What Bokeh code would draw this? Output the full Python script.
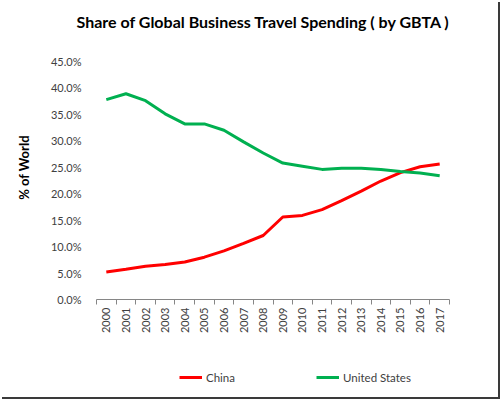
import math
from bokeh.plotting import figure
from bokeh.models import (Range1d, FixedTicker, PrintfTickFormatter, Label, Legend, LegendItem, ColumnDataSource)
from bokeh.embed import file_html
from bokeh.resources import INLINE

years = ["2000", "2001", "2002", "2003", "2004", "2005", "2006", "2007", "2008",
         "2009", "2010", "2011", "2012", "2013", "2014", "2015", "2016", "2017"]
china = [5.2, 5.7, 6.3, 6.6, 7.1, 8.0, 9.2, 10.6, 12.1, 15.6, 15.9, 17.0, 18.7, 20.5, 22.4, 24.0, 25.1, 25.6]
united_states = [37.8, 38.9, 37.6, 35.1, 33.2, 33.2, 32.0, 29.8, 27.7, 25.8, 25.2, 24.6, 24.8, 24.8, 24.6, 24.2, 23.9, 23.4]
y_ticks = [0, 5, 10, 15, 20, 25, 30, 35, 40, 45]
y_min, y_max = 0, 45

# canvas and plot-area geometry (pixels)
W, H = 498, 397
PX_L, PX_R, PY_T, PY_B = 96, 449, 61, 299
FONT = "Lato"

n = len(years)
xs = list(range(n))
src = ColumnDataSource(dict(x=xs, china=china, us=united_states))

# the frame fills the whole canvas; ranges are set so the data area lands on the plot area
xpp = n / (PX_R - PX_L)
ypp = (y_max - y_min) / (PY_B - PY_T)
x_range = Range1d(-0.5 - PX_L * xpp, -0.5 + (W - PX_L) * xpp)
y_range = Range1d(y_min - (H - PY_B) * ypp, y_max + PY_T * ypp)

p = figure(width=W, height=H, output_backend="svg", toolbar_location=None,
           x_range=x_range, y_range=y_range, min_border=0)
p.styles = {"box-shadow": "2px 2px 0 #3a3a3a"}
p.outline_line_color = None
p.xgrid.visible = False
p.ygrid.visible = False
p.background_fill_color = "white"
p.border_fill_color = "white"

r1 = p.line("x", "china", source=src, line_color="#FF0000", line_width=3)
r2 = p.line("x", "us", source=src, line_color="#00B050", line_width=3)

# x axis (drawn inside the frame at y = 0)
xa = p.xaxis[0]
xa.fixed_location = y_min
xa.bounds = (-0.5, n - 0.5)
xa.ticker = FixedTicker(ticks=xs, minor_ticks=[i - 0.5 for i in range(n + 1)])
xa.major_label_overrides = {i: y for i, y in enumerate(years)}
xa.major_label_orientation = math.pi / 2
xa.major_tick_out = 0
xa.major_tick_in = 0
xa.minor_tick_out = 5
xa.minor_tick_in = 0
xa.minor_tick_line_color = "#868686"
xa.axis_line_color = "#868686"
xa.major_label_standoff = 3
xa.major_label_text_font = FONT
xa.major_label_text_font_size = "11px"
xa.major_label_text_color = "#404040"

# y axis (drawn inside the frame at the left edge of the first category)
ya = p.yaxis[0]
ya.fixed_location = -0.5
ya.bounds = (y_min, y_max)
ya.ticker = FixedTicker(ticks=y_ticks)
ya.formatter = PrintfTickFormatter(format="%.1f%%")
ya.axis_line_color = None
ya.major_tick_line_color = None
ya.minor_tick_line_color = None
ya.major_label_standoff = 9
ya.major_label_text_font = FONT
ya.major_label_text_font_size = "11px"
ya.major_label_text_color = "#404040"

# title and y label (screen units: from the frame's bottom-left)
p.add_layout(Label(x=263, y=H - 21, x_units="screen", y_units="screen",
                   text="Share of Global Business Travel Spending ( by GBTA )",
                   text_font=FONT, text_font_style="bold", text_font_size="16px",
                   text_align="center", text_baseline="middle", text_color="black"))
p.add_layout(Label(x=23, y=H - 167, x_units="screen", y_units="screen",
                   text="% of World", angle=math.pi / 2,
                   text_font=FONT, text_font_style="bold", text_font_size="13px",
                   text_align="center", text_baseline="middle", text_color="black"))

legend = Legend(items=[LegendItem(label="China", renderers=[r1]),
                       LegendItem(label="United States", renderers=[r2])],
                orientation="horizontal", location=(179, H - 384),
                padding=0, margin=0, spacing=81, border_line_color=None,
                background_fill_alpha=0, glyph_width=23, glyph_height=14,
                label_standoff=4, label_text_font=FONT, label_text_font_size="11.5px",
                label_text_color="#404040")
p.add_layout(legend, "center")

open("out.html", "w").write(file_html(p, INLINE))
